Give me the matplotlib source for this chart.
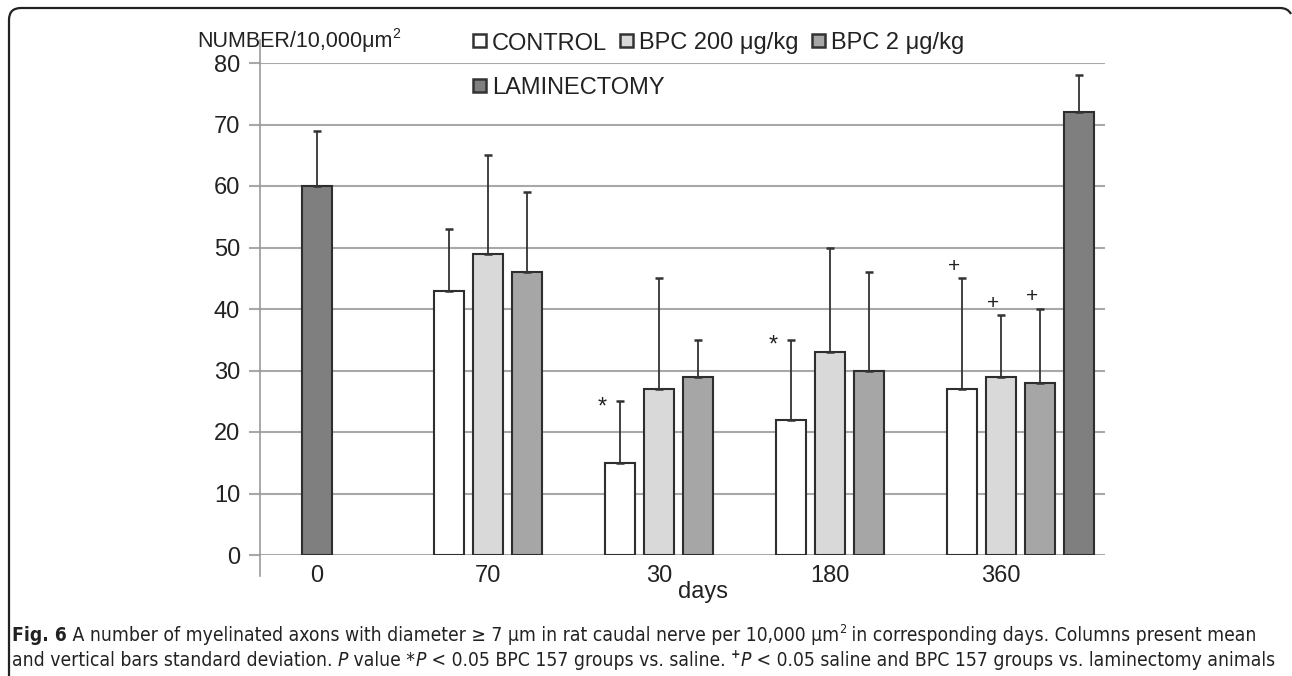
import matplotlib
matplotlib.use("Agg")
import matplotlib.pyplot as plt
import numpy as np
from matplotlib.patches import Rectangle, PathPatch
from matplotlib.path import Path
from matplotlib.lines import Line2D
from matplotlib import font_manager as fm

W, H = 1292, 676

# ---------------- data ----------------
days = ["0", "70", "30", "180", "360"]
series_names = ["CONTROL", "BPC 200 \u03bcg/kg", "BPC 2 \u03bcg/kg", "LAMINECTOMY"]
control = [np.nan, 43, 15, 22, 27]
control_sd = [np.nan, 10, 10, 13, 18]
bpc200 = [np.nan, 49, 27, 33, 29]
bpc200_sd = [np.nan, 16, 18, 17, 10]
bpc2 = [np.nan, 46, 29, 30, 28]
bpc2_sd = [np.nan, 13, 6, 16, 12]
laminectomy = [60, np.nan, np.nan, np.nan, 72]
laminectomy_sd = [9, np.nan, np.nan, np.nan, 6]
y_ticks = [0, 10, 20, 30, 40, 50, 60, 70, 80]
# significance marks: (series index, day index, symbol)
marks = [(0, 2, "*"), (0, 3, "*"), (0, 4, "+"), (1, 4, "+"), (2, 4, "+")]

means = [control, bpc200, bpc2, laminectomy]
sds = [control_sd, bpc200_sd, bpc2_sd, laminectomy_sd]
colors = ["#ffffff", "#d9d9d9", "#a6a6a6", "#7f7f7f"]

# ---------------- fonts ----------------
names = {f.name for f in fm.fontManager.ttflist}
MAIN = "Liberation Sans" if "Liberation Sans" in names else "DejaVu Sans"
if "Liberation Sans Narrow" in names:
    CAP, CAP_STRETCH = "Liberation Sans Narrow", "normal"
else:
    CAP, CAP_STRETCH = "DejaVu Sans", "condensed"
TXT = "#222222"
FS = 17

fig = plt.figure(figsize=(W / 100, H / 100), dpi=100)


def fx(x):
    return x / W


def fy(y):
    return 1 - y / H


# axes: x in category units, y in data units
ax = fig.add_axes([fx(261), fy(555), (1105 - 261) / W, (555 - 63) / H])
step = 0.228
width = 0.181
xpos = np.arange(len(days))

bar_x = {}
for s, (m, sd) in enumerate(zip(means, sds)):
    m = np.array(m, dtype=float)
    sd = np.array(sd, dtype=float)
    xs = []
    for i in range(len(days)):
        others = any(not np.isnan(means[k][i]) for k in range(3))
        if s < 3:
            off = (s - 1) * step
        else:
            off = 2 * step if others else 0.0
        xs.append(xpos[i] + off)
    xs = np.array(xs)
    bar_x[s] = xs
    ok = ~np.isnan(m)
    ax.bar(xs[ok], m[ok], width=width, color=colors[s], edgecolor="#2e2e2e",
           linewidth=1.5, zorder=3)
    ax.errorbar(xs[ok], m[ok], yerr=[np.zeros(ok.sum()), sd[ok]], fmt="none",
                ecolor="#333333", elinewidth=1.3, capsize=3, capthick=1.8, zorder=4)

for s, i, sym in marks:
    top = means[s][i] + sds[s][i]
    if sym == "*":
        ax.annotate(sym, (bar_x[s][i], top), xytext=(-18, -6), textcoords="offset pixels",
                    ha="center", va="center", fontsize=17, family=MAIN, color=TXT)
    else:
        ax.annotate(sym, (bar_x[s][i], top), xytext=(-8, 12), textcoords="offset pixels",
                    ha="center", va="center", fontsize=15, family=MAIN, color=TXT)

ax.set_xlim((261 - 317) / 171, (1105 - 317) / 171)
ax.set_ylim(0, 80)
ax.set_yticks(y_ticks)
ax.set_yticklabels([str(v) for v in y_ticks], family=MAIN, fontsize=FS, color=TXT)
ax.set_xticks(xpos)
ax.set_xticklabels(days, family=MAIN, fontsize=FS, color=TXT)
ax.tick_params(axis="y", length=9, width=1.5, color="#a8a8a8", pad=6)
ax.tick_params(axis="x", length=0, pad=7)
ax.yaxis.grid(True, color="#a8a8a8", linewidth=1.5)
ax.set_axisbelow(True)
for sp in ax.spines.values():
    sp.set_visible(False)
ax.set_facecolor("none")

# y axis line (extends above and below plot)
fig.add_artist(Line2D([fx(260), fx(260)], [fy(576), fy(40)], color="#999999", lw=1.2))

r = fig.canvas.get_renderer()


def measure(txt, **kw):
    t1 = fig.text(0, 0, "X" + txt + "X", **kw)
    t2 = fig.text(0, 0, "XX", **kw)
    w = t1.get_window_extent(renderer=r).width - t2.get_window_extent(renderer=r).width
    t1.remove()
    t2.remove()
    return w


def pieces(x0, ybase, items, size, family, stretch="normal"):
    x = x0
    for txt, style in items:
        kw = dict(family=family, fontsize=size, color=TXT, fontstretch=stretch)
        dy = 0
        if "b" in style:
            kw["weight"] = "bold"
        if "i" in style:
            kw["style"] = "italic"
        if "s" in style:
            kw["fontsize"] = size * 0.65
            dy = size * 0.42 * 100 / 72
        fig.text(fx(x), fy(ybase - dy), txt, ha="left", va="baseline", **kw)
        x += measure(txt, **kw)
    return x


# y title
pieces(197, 47, [("NUMBER/10,000\u03bcm", ""), ("2", "s")], 15.5, MAIN)

# legend (drawn manually to match layout): row 1 flows left to right, row 2 below
leg_rows = [([0, 1, 2], 41), ([3], 86)]
for items, ly in leg_rows:
    lx = 473
    for s in items:
        fig.add_artist(Rectangle((fx(lx), fy(ly + 6)), 13 / W, 13 / H, facecolor=colors[s],
                                 edgecolor="#333333", lw=1.8, transform=fig.transFigure))
        fig.text(fx(lx + 19), fy(ly), series_names[s], ha="left", va="center_baseline",
                 family=MAIN, fontsize=FS, color=TXT)
        lx += 19 + measure(series_names[s], family=MAIN, fontsize=FS) + 13

fig.text(fx(703), fy(592), "days", ha="center", va="center", family=MAIN, fontsize=FS, color=TXT)

# caption
line1 = [("Fig. 6", "b"),
         (" A number of myelinated axons with diameter \u2265 7 \u03bcm in rat caudal nerve per 10,000 \u03bcm", ""),
         ("2", "s"),
         (" in corresponding days. Columns present mean", "")]
line2 = [("and vertical bars standard deviation. ", ""), ("P", "i"), (" value *", ""), ("P", "i"),
         (" < 0.05 BPC 157 groups vs. saline. ", ""), ("+", "bs"), ("P", "i"),
         (" < 0.05 saline and BPC 157 groups vs. laminectomy animals", "")]


def line_width(items, size):
    w = 0
    for txt, style in items:
        kw = dict(family=CAP, fontsize=size, fontstretch=CAP_STRETCH)
        if "b" in style:
            kw["weight"] = "bold"
        if "i" in style:
            kw["style"] = "italic"
        if "s" in style:
            kw["fontsize"] = size * 0.65
        w += measure(txt, **kw)
    return w


cap_size = 12 * (1252 - 12) / line_width(line1, 12)
pieces(12, 641, line1, cap_size, CAP, CAP_STRETCH)
pieces(12, 666, line2, cap_size, CAP, CAP_STRETCH)

# partial frame (top and left with rounded corners)
verts = [(9, 676), (9, 20), (9, 8), (21, 8), (1280, 8), (1288, 8), (1291, 14)]
codes = [Path.MOVETO, Path.LINETO, Path.CURVE3, Path.CURVE3, Path.LINETO, Path.CURVE3, Path.CURVE3]
vv = [(fx(a), fy(b)) for a, b in verts]
fig.add_artist(PathPatch(Path(vv, codes), facecolor="none", edgecolor="#222222", lw=1.6,
                         transform=fig.transFigure))

fig.savefig("out.png", dpi=100)
